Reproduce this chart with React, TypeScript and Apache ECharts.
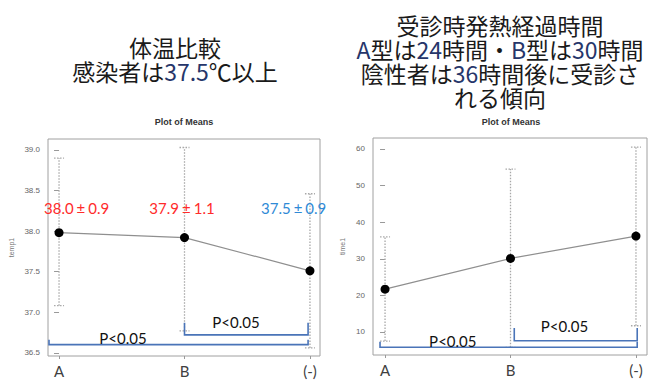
import React, { useEffect, useRef } from "react";
import * as echarts from "echarts";

const categories = ["A", "B", "(-)"];

const tempMean = [37.98, 37.92, 37.51];
const tempUpper = [38.9, 39.03, 38.46];
const tempLower = [37.08, 36.77, 36.56];
const tempLabels = ["38.0{p|±}0.9", "37.9{p|±}1.1", "37.5{p|±}0.9"];
const tempTicks = [36.5, 37.0, 37.5, 38.0, 38.5, 39.0];

const timeMean = [21.7, 30.1, 36.2];
const timeUpper = [36.0, 54.5, 60.5];
const timeLower = [7.5, 5.8, 11.7];
const timeTicks = [10, 20, 30, 40, 50, 60];

const pLabel = "P<0.05";

const CJK = "'Noto Sans CJK JP', sans-serif";
const LAT = "Lato, 'Noto Sans', sans-serif";
const SMALL = "'Liberation Sans', Arial, sans-serif";

function errorBarSeries(gi: number, lower: number[], upper: number[]) {
  return {
    type: "custom",
    xAxisIndex: gi,
    yAxisIndex: gi,
    z: 2,
    silent: true,
    data: categories.map((_, i) => [i, lower[i], upper[i]]),
    encode: { x: 0, y: [1, 2] },
    renderItem: (_p: any, api: any) => {
      const x = api.value(0);
      const lo = api.coord([x, api.value(1)]);
      const hi = api.coord([x, api.value(2)]);
      const st = { stroke: "#a8a8a8", lineWidth: 1.3, lineDash: [1.5, 1.5], fill: null };
      const cap = 5;
      return {
        type: "group",
        children: [
          { type: "line", shape: { x1: lo[0], y1: lo[1], x2: hi[0], y2: hi[1] }, style: st },
          { type: "line", shape: { x1: hi[0] - cap, y1: hi[1], x2: hi[0] + cap, y2: hi[1] }, style: st },
          { type: "line", shape: { x1: lo[0] - cap, y1: lo[1], x2: lo[0] + cap, y2: lo[1] }, style: st },
        ],
      };
    },
  };
}

function meanSeries(gi: number, mean: number[]) {
  return {
    type: "line",
    xAxisIndex: gi,
    yAxisIndex: gi,
    z: 3,
    data: categories.map((_, i) => [i, mean[i]]),
    symbol: "circle",
    symbolSize: 9,
    itemStyle: { color: "#000" },
    lineStyle: { color: "#8f8f8f", width: 1.2 },
  };
}

// bracket layout: [x1, x2, yBase, yTop, textX, textY]
function bracketSeries(gi: number, brackets: number[][]) {
  return {
    type: "custom",
    xAxisIndex: gi,
    yAxisIndex: gi,
    z: 4,
    silent: true,
    data: brackets,
    encode: { x: [0, 1], y: [2, 3] },
    renderItem: (_p: any, api: any) => {
      const x1 = api.value(0);
      const x2 = api.value(1);
      const yb = api.value(2);
      const yt = api.value(3);
      const a = api.coord([x1, yt]);
      const b = api.coord([x1, yb]);
      const c = api.coord([x2, yb]);
      const d = api.coord([x2, yt]);
      const t = api.coord([api.value(4), api.value(5)]);
      return {
        type: "group",
        children: [
          {
            type: "polyline",
            shape: { points: [a, b, c, d] },
            style: { stroke: "#4a74b8", lineWidth: 1.6, fill: null },
          },
          {
            type: "text",
            x: t[0],
            y: t[1],
            style: {
              text: pLabel,
              fill: "#111",
              font: `15px ${LAT}`,
              align: "center",
              verticalAlign: "middle",
            },
          },
        ],
      };
    },
  };
}

function valueLabelSeries(gi: number, pos: number[][], labels: string[], colors: string[]) {
  return {
    type: "custom",
    xAxisIndex: gi,
    yAxisIndex: gi,
    z: 5,
    silent: true,
    data: pos.map((p, i) => [p[0], p[1], i]),
    encode: { x: 0, y: 1 },
    renderItem: (_p: any, api: any) => {
      const c = api.coord([api.value(0), api.value(1)]);
      const i = api.value(2);
      return {
        type: "text",
        x: c[0],
        y: c[1],
        style: {
          text: labels[i],
          fill: colors[i],
          font: `15px ${LAT}`,
          align: "center",
          verticalAlign: "middle",
          rich: {
            p: { fill: colors[i], font: `15px ${LAT}`, padding: [0, 3] },
          },
        },
      };
    },
  };
}

function xAxis(gi: number, min: number, max: number) {
  return {
    type: "value",
    gridIndex: gi,
    min,
    max,
    axisLine: { show: false },
    splitLine: { show: false },
    axisTick: { show: true, customValues: [0, 1, 2], length: 3, lineStyle: { color: "#999" } },
    axisLabel: {
      customValues: [0, 1, 2],
      formatter: (v: number) => categories[Math.round(v)] ?? "",
      fontSize: 15,
      fontFamily: LAT,
      color: "#404040",
      margin: 7,
    },
    name: "grp",
    nameLocation: "middle",
    nameGap: 32,
    nameTextStyle: { fontSize: 8, color: "#777", fontFamily: SMALL },
  };
}

function yAxis(gi: number, min: number, max: number, ticks: number[], fmt: (v: number) => string, name: string) {
  return {
    type: "value",
    gridIndex: gi,
    min,
    max,
    axisLine: { show: false },
    splitLine: { show: false },
    axisTick: { show: true, customValues: ticks, length: 5, lineStyle: { color: "#999" } },
    axisLabel: {
      customValues: ticks,
      formatter: fmt,
      fontSize: 8,
      fontFamily: SMALL,
      color: "#666",
      margin: 8,
    },
    name,
    nameLocation: "middle",
    nameGap: name === "temp1" ? 33 : 27,
    nameRotate: 90,
    nameTextStyle: { fontSize: 7, color: "#777", fontFamily: SMALL },
  };
}

export default function App() {
  const ref = useRef<HTMLDivElement>(null);
  useEffect(() => {
    if (!ref.current) return;
    const chart = echarts.init(ref.current, null, { renderer: "svg" });
    const digit = { color: "#26366a", fontSize: 23, fontFamily: CJK, lineHeight: 24 };
    const titleStyle = {
      fontSize: 23,
      fontWeight: "normal",
      fontFamily: CJK,
      color: "#1a1a1a",
      lineHeight: 24,
      rich: { d: digit },
    };
    const pomStyle = { fontSize: 9, fontWeight: "bold", fontFamily: SMALL, color: "#333" };
    chart.setOption({
      animation: false,
      backgroundColor: "#fff",
      title: [
        {
          text: "体温比較\n感染者は{d|37.5}℃以上",
          left: 175,
          top: 35,
          textAlign: "center",
          padding: 0,
          textStyle: titleStyle,
        },
        {
          text: "受診時発熱経過時間\n{d|A}型は{d|24}時間・{d|B}型は{d|30}時間\n陰性者は{d|36}時間後に受診さ\nれる傾向",
          left: 500,
          top: 13,
          textAlign: "center",
          padding: 0,
          textStyle: titleStyle,
        },
        { text: "Plot of Means", left: 184, top: 117, textAlign: "center", padding: 0, textStyle: pomStyle },
        { text: "Plot of Means", left: 511, top: 117, textAlign: "center", padding: 0, textStyle: pomStyle },
      ],
      grid: [
        {
          left: 48,
          top: 139,
          width: 272,
          height: 217,
          show: true,
          borderColor: "#a0a0a0",
          borderWidth: 1,
          backgroundColor: "#fff",
          outerBoundsMode: "none",
          containLabel: false,
        },
        {
          left: 373,
          top: 138,
          width: 274,
          height: 217,
          show: true,
          borderColor: "#a0a0a0",
          borderWidth: 1,
          backgroundColor: "#fff",
          outerBoundsMode: "none",
          containLabel: false,
        },
      ],
      xAxis: [xAxis(0, -0.088, 2.08), xAxis(1, -0.096, 2.088)],
      yAxis: [
        yAxis(0, 36.46, 39.135, tempTicks, (v: number) => v.toFixed(1), "temp1"),
        yAxis(1, 3.7, 63, timeTicks, (v: number) => String(v), "time1"),
      ],
      series: [
        errorBarSeries(0, tempLower, tempUpper),
        meanSeries(0, tempMean),
        bracketSeries(0, [
          [-0.08, 1.985, 36.6, 36.66, 0.51, 36.68],
          [1.0, 1.985, 36.72, 36.87, 1.41, 36.88],
        ]),
        valueLabelSeries(
          0,
          [
            [0.14, 38.29],
            [0.98, 38.29],
            [1.87, 38.29],
          ],
          tempLabels,
          ["#ff2b2b", "#ff2b2b", "#2f8ad6"]
        ),
        errorBarSeries(1, timeLower, timeUpper),
        meanSeries(1, timeMean),
        bracketSeries(1, [
          [-0.04, 2.01, 5.8, 7.3, 0.54, 7.6],
          [1.03, 2.01, 7.6, 11.1, 1.43, 11.6],
        ]),
      ],
    });
    return () => chart.dispose();
  }, []);
  return <div ref={ref} style={{ width: 666, height: 385, position: "absolute", left: 0, top: 0 }} />;
}
